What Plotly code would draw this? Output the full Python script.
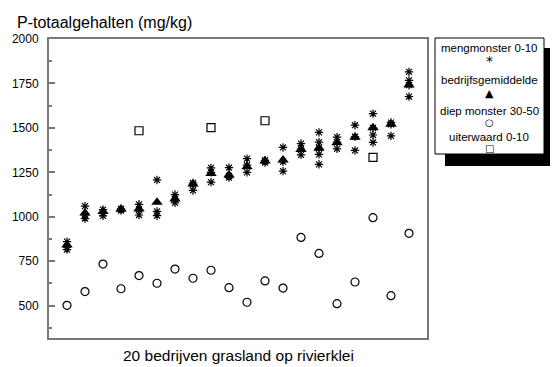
import plotly.graph_objects as go

# --- data ---
companies = list(range(1, 21))

# individual mixed samples (mengmonster 0-10), several per company
meng = [
    [860, 830, 815],
    [1060, 1010, 990],
    [1040, 1020, 1005],
    [1045, 1035],
    [1070, 1040, 1010],
    [1207, 1030, 1006],
    [1125, 1100, 1078],
    [1190, 1180, 1148],
    [1275, 1250, 1195],
    [1276, 1230, 1220],
    [1327, 1290, 1250],
    [1318, 1305],
    [1390, 1310, 1257],
    [1412, 1380, 1348],
    [1475, 1420, 1385, 1351, 1295],
    [1448, 1420, 1382],
    [1515, 1450, 1373],
    [1580, 1500, 1460, 1418],
    [1530, 1520, 1455],
    [1815, 1767, 1740, 1676],
]
gemiddelde = [841, 1021, 1029, 1042, 1044, 1081, 1100, 1184, 1244, 1235,
              1282, 1314, 1319, 1379, 1385, 1417, 1447, 1501, 1520, 1741]
diep = [502, 579, 734, 595, 669, 626, 706, 654, 699, 601,
        519, 639, 599, 884, 794, 511, 633, 995, 556, 907]
uiterwaard_x = [5, 9, 12, 18]
uiterwaard = [1484, 1501, 1540, 1334]

y_ticks = [500, 750, 1000, 1250, 1500, 1750, 2000]
legend_labels = ["mengmonster 0-10", "bedrijfsgemiddelde", "diep monster 30-50", "uiterwaard 0-10"]
legend_symbols = ["*", "▲", "○", "□"]

meng_x = [c for c, vals in zip(companies, meng) for _ in vals]
meng_y = [v for vals in meng for v in vals]

fig = go.Figure()
fig.add_trace(go.Scatter(x=meng_x, y=meng_y, mode="markers",
                         marker=dict(symbol="asterisk-open", size=7, color="black",
                                     line=dict(color="black", width=1.2))))
fig.add_trace(go.Scatter(x=companies, y=gemiddelde, mode="markers",
                         marker=dict(symbol="triangle-up", size=10, color="black")))
fig.add_trace(go.Scatter(x=companies, y=diep, mode="markers",
                         marker=dict(symbol="circle-open", size=8, color="black",
                                     line=dict(color="black", width=1.2))))
fig.add_trace(go.Scatter(x=uiterwaard_x, y=uiterwaard, mode="markers",
                         marker=dict(symbol="square-open", size=8, color="black",
                                     line=dict(color="black", width=1.2))))

L, R, T, B = 49, 126, 39, 29
W, H = 553, 367
pw, ph = W - L - R, H - T - B


def px(x):
    return (x - L) / pw


def py(y):
    return (H - B - y) / ph


shapes = [
    dict(type="rect", xref="paper", yref="paper", x0=px(445), x1=px(550), y0=py(166), y1=py(48),
         fillcolor="black", line=dict(width=0), layer="above"),
    dict(type="rect", xref="paper", yref="paper", x0=px(435), x1=px(544), y0=py(154), y1=py(38),
         fillcolor="white", line=dict(color="black", width=1), layer="above"),
]

annotations = []
label_y = [48, 80, 111, 137]
sym_y = [61, 93, 122, 148]
sym_size = [14, 11, 10, 10]
for lab, sym, ly, sy, ss in zip(legend_labels, legend_symbols, label_y, sym_y, sym_size):
    annotations.append(dict(text=lab, xref="paper", yref="paper", x=px(489), y=py(ly),
                            showarrow=False, xanchor="center", yanchor="middle",
                            font=dict(size=11.5, color="black", family="Liberation Sans")))
    annotations.append(dict(text=sym, xref="paper", yref="paper", x=px(489), y=py(sy),
                            showarrow=False, xanchor="center", yanchor="middle",
                            font=dict(size=ss, color="black", family="DejaVu Sans")))

annotations.append(dict(text="P-totaalgehalten (mg/kg)", xref="paper", yref="paper",
                        x=px(15), y=py(22), showarrow=False, xanchor="left", yanchor="middle",
                        font=dict(size=16, color="black", family="Liberation Sans")))
annotations.append(dict(text="20 bedrijven grasland op rivierklei", xref="paper", yref="paper",
                        x=px(238), y=py(355), showarrow=False, xanchor="center", yanchor="middle",
                        font=dict(size=15.5, color="black", family="Liberation Sans")))

fig.update_layout(
    width=W, height=H,
    margin=dict(l=L, r=R, t=T, b=B),
    paper_bgcolor="white", plot_bgcolor="white",
    showlegend=False,
    font=dict(family="Liberation Sans", size=12, color="black"),
    shapes=shapes, annotations=annotations,
    xaxis=dict(range=[0, 21], showticklabels=False, ticks="", showgrid=False, zeroline=False,
               showline=True, linecolor="#777", linewidth=2, mirror=True),
    yaxis=dict(range=[318, 2000], tickvals=y_ticks, ticks="inside", ticklen=6, tickwidth=1.5,
               tickcolor="#777", showgrid=False, zeroline=False,
               showline=True, linecolor="#777", linewidth=2, mirror=True,
               ticklabelstandoff=6,
               minor=dict(tickvals=[375, 625, 875, 1125, 1375, 1625, 1875], ticks="inside",
                          ticklen=3, tickwidth=1.5, tickcolor="#777")),
)

fig.write_html("out.html")
